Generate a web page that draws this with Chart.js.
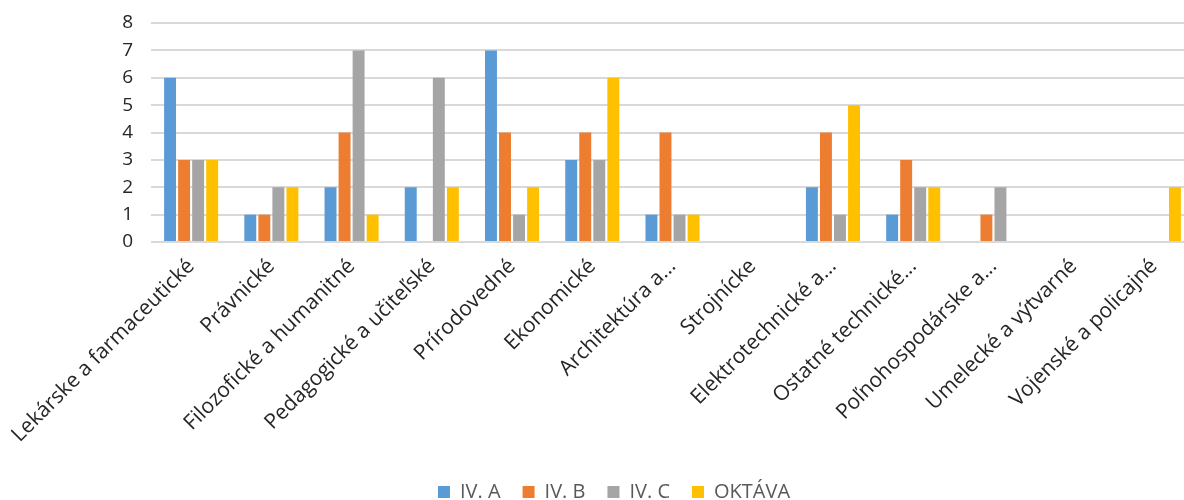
<!DOCTYPE html>
<html>
<head>
<meta charset="utf-8">
<script src="https://cdn.jsdelivr.net/npm/chart.js@4/dist/chart.umd.min.js"></script>
<style>
  html, body { margin: 0; padding: 0; background: #fff; overflow: hidden; }
  #wrap { position: relative; width: 1228px; height: 512px; }
</style>
</head>
<body>
<div id="wrap"><canvas id="chart"></canvas></div>
<script>
const categories = [
  "Lekárske a farmaceutické", "Právnické", "Filozofické a humanitné",
  "Pedagogické a učiteľské", "Prírodovedné", "Ekonomické", "Architektúra a...",
  "Strojnícke", "Elektrotechnické a...", "Ostatné technické...",
  "Poľnohospodárske a...", "Umelecké a výtvarné", "Vojenské a policajné"
];
const seriesNames = ["IV. A", "IV. B", "IV. C", "OKTÁVA"];
const ivA    = [6, 1, 2, 2, 7, 3, 1, 0, 2, 1, 0, 0, 0];
const ivB    = [3, 1, 4, 0, 4, 4, 4, 0, 4, 3, 1, 0, 0];
const ivC    = [3, 2, 7, 6, 1, 3, 1, 0, 1, 2, 2, 0, 0];
const oktava = [3, 2, 1, 2, 2, 6, 1, 0, 5, 2, 0, 0, 2];
const yMax = 8;

const colors = ["#5B9BD5", "#ED7D31", "#A5A5A5", "#FFC000"];
const allValues = [ivA, ivB, ivC, oktava];

const datasets = seriesNames.map(function(name, i) {
  return {
    label: name,
    data: allValues[i],
    backgroundColor: colors[i],
    borderWidth: 0,
    categoryPercentage: 0.70,
    barPercentage: 0.85
  };
});

const ctx = document.getElementById("chart").getContext("2d");
new Chart(ctx, {
  type: "bar",
  data: { labels: categories, datasets: datasets },
  options: {
    responsive: true,
    maintainAspectRatio: false,
    animation: false,
    layout: { padding: { top: 4, right: 0, left: 0, bottom: 0 } },
    plugins: {
      tooltip: { enabled: false },
      legend: {
        position: "bottom",
        labels: {
          boxWidth: 12,
          boxHeight: 12,
          padding: 22,
          color: "#595959",
          font: { family: "Open Sans", size: 20 }
        }
      }
    },
    scales: {
      x: {
        grid: { display: false },
        border: { display: false },
        afterFit: function(scale) { scale.height = 218; },
        ticks: {
          minRotation: 45,
          maxRotation: 45,
          color: "#262626",
          padding: 4,
          font: { family: "Open Sans", size: 21 }
        }
      },
      y: {
        min: 0,
        max: yMax,
        afterFit: function(scale) {
          scale.width = 151;
          scale.paddingTop = 23;
        },
        grid: { color: "#D9D9D9", lineWidth: 2, drawTicks: false },
        border: { display: false },
        ticks: {
          stepSize: 1,
          autoSkip: false,
          color: "#262626",
          padding: 18,
          font: { family: "Open Sans", size: 19 }
        }
      },
      // empty right-hand spacer so the plot stops before the legend's right edge
      spacer: {
        type: "linear",
        position: "right",
        min: 0,
        max: yMax,
        afterFit: function(scale) {
          scale.width = 34;
          scale.paddingTop = 23;
        },
        grid: { drawOnChartArea: false, drawTicks: false },
        border: { display: false },
        ticks: { color: "rgba(0,0,0,0)", font: { size: 1 } }
      }
    }
  }
});
</script>
</body>
</html>
